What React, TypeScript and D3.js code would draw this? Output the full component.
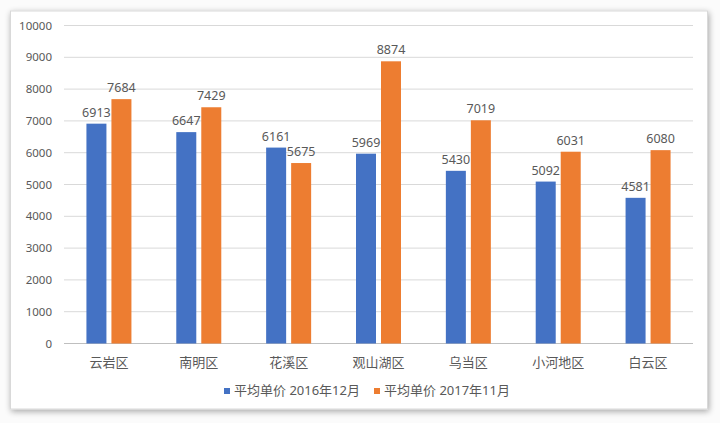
import React from "react";
import * as d3 from "d3";

const categories = ["云岩区", "南明区", "花溪区", "观山湖区", "乌当区", "小河地区", "白云区"];
const series2016 = [6913, 6647, 6161, 5969, 5430, 5092, 4581];
const series2017 = [7684, 7429, 5675, 8874, 7019, 6031, 6080];
const seriesNames = ["平均单价 2016年12月", "平均单价 2017年11月"];
const colors = ["#4472C4", "#ED7D31"];
const yTicks = [0, 1000, 2000, 3000, 4000, 5000, 6000, 7000, 8000, 9000, 10000];

export default function App() {
  const W = 720, H = 423;
  const left = 64, right = 693, top = 25.5, bottom = 343.5;
  const x = d3.scaleBand<string>().domain(categories).range([left, right]).paddingInner(0).paddingOuter(0);
  const y = d3.scaleLinear().domain([0, 10000]).range([bottom, top]);
  const barW = 20, gap = 5;
  const font = "'Noto Sans', 'Noto Sans CJK SC', sans-serif";
  const data = [series2016, series2017];
  return (
    <svg width={W} height={H} style={{ position: "absolute", left: 0, top: 0, background: "#f4f4f4" }}>
      <defs>
        <filter id="sh" x="-5%" y="-5%" width="110%" height="115%">
          <feGaussianBlur in="SourceAlpha" stdDeviation="3" />
          <feOffset dx="1" dy="2" result="b" />
          <feComponentTransfer><feFuncA type="linear" slope="0.35" /></feComponentTransfer>
          <feMerge><feMergeNode /><feMergeNode in="SourceGraphic" /></feMerge>
        </filter>
      </defs>
      <rect x={0} y={0} width={W} height={H} fill="#fbfbfb" />
      <rect x={10.5} y={11} width={697} height={398} fill="#ffffff" stroke="#d9d9d9" filter="url(#sh)" />
      {yTicks.map((t) => (
        <g key={t}>
          <line x1={left} x2={right} y1={y(t)} y2={y(t)} stroke={t === 0 ? "#bfbfbf" : "#d9d9d9"} strokeWidth={1} />
          <text x={52} y={y(t)} dy="0.35em" textAnchor="end" fontSize={11.5} fill="#595959" fontFamily={font}>{t}</text>
        </g>
      ))}
      {categories.map((c, i) => {
        const cx = (x(c) as number) + x.bandwidth() / 2;
        return (
          <g key={c}>
            {data.map((s, j) => {
              const bx = j === 0 ? cx - gap / 2 - barW : cx + gap / 2;
              return (
                <g key={j}>
                  <rect x={bx} y={y(s[i])} width={barW} height={bottom - y(s[i])} fill={colors[j]} />
                  <text x={bx + barW / 2} y={y(s[i]) - 7} textAnchor="middle" fontSize={12.5} fill="#595959" fontFamily={font}>{s[i]}</text>
                </g>
              );
            })}
            <text x={cx} y={362} dy="0.35em" textAnchor="middle" fontSize={13} fill="#595959" fontFamily={font}>{c}</text>
          </g>
        );
      })}
      {seriesNames.map((n, j) => {
        const lx = j === 0 ? 224 : 374;
        return (
          <g key={n}>
            <rect x={lx} y={388} width={6} height={6} fill={colors[j]} />
            <text x={lx + 10} y={390} dy="0.35em" fontSize={13} fill="#595959" fontFamily={font}>{n}</text>
          </g>
        );
      })}
    </svg>
  );
}
